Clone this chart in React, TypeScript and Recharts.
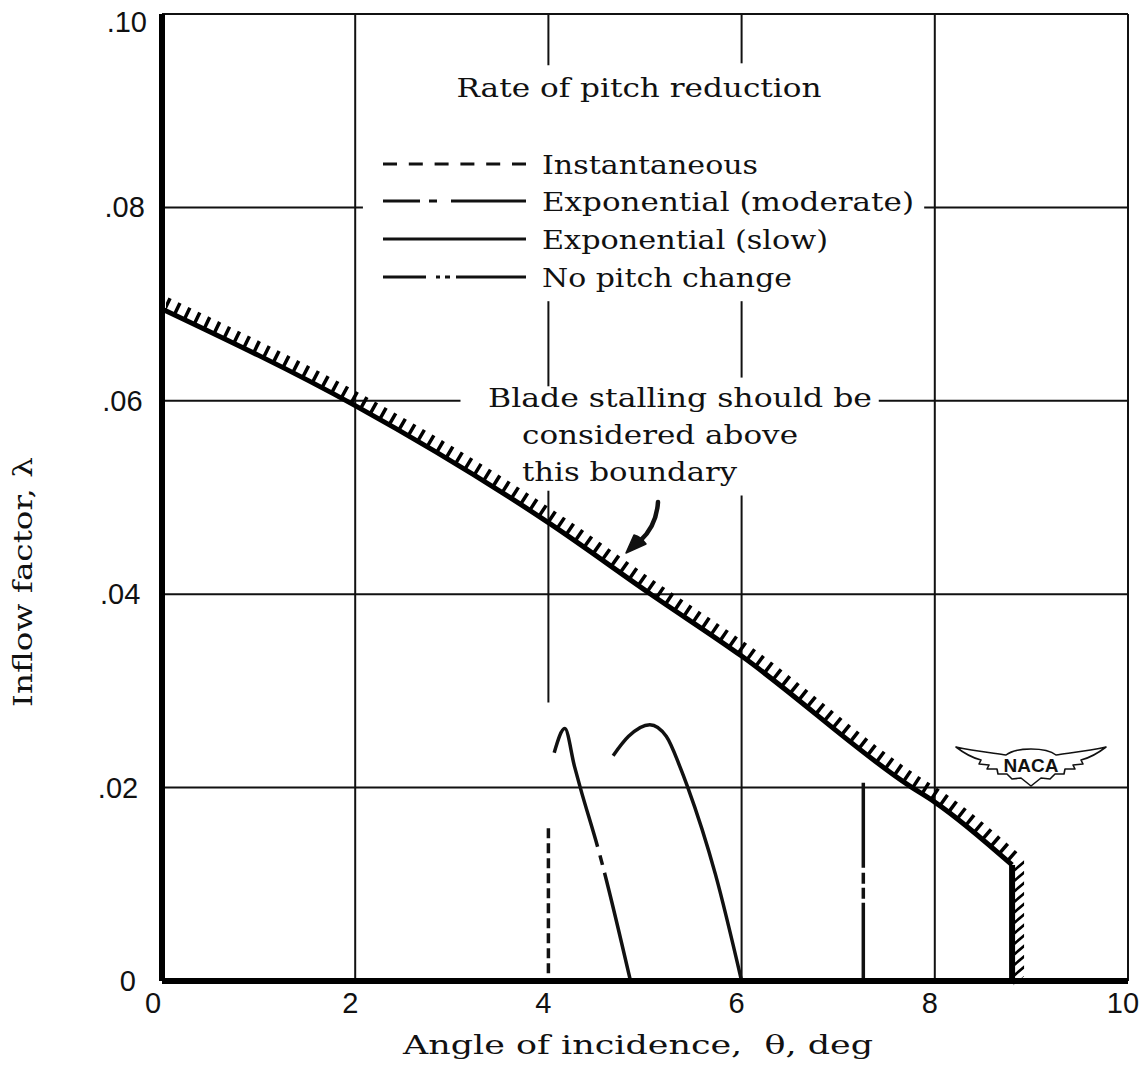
import React from 'react';
import { LineChart, Line, XAxis, YAxis, ReferenceLine, Customized } from 'recharts';

// ---------- data ----------
const xTicks = [0, 2, 4, 6, 8, 10];
const yTicks = [0, 0.02, 0.04, 0.06, 0.08, 0.1];

// stall boundary (hatched)
const boundarySlant = [
  { x: 0, y: 0.0695 },
  { x: 2, y: 0.0595 },
  { x: 4, y: 0.0474 },
  { x: 5.06, y: 0.04 },
  { x: 6, y: 0.0336 },
  { x: 7.75, y: 0.0201 },
  { x: 8, y: 0.0185 },
  { x: 8.8, y: 0.012 },
];
const boundaryVertical = [
  { x: 8.8, y: 0.012 },
  { x: 8.8, y: 0 },
];

const instantaneous = [
  { x: 4.0, y: 0.0158 },
  { x: 4.0, y: 0 },
];
const moderate = [
  { x: 4.06, y: 0.0236 },
  { x: 4.17, y: 0.0261 },
  { x: 4.27, y: 0.0222 },
  { x: 4.33, y: 0.02 },
  { x: 4.52, y: 0.0135 },
  { x: 4.85, y: 0 },
];
const slow = [
  { x: 4.67, y: 0.0233 },
  { x: 4.83, y: 0.0253 },
  { x: 5.05, y: 0.0265 },
  { x: 5.22, y: 0.0253 },
  { x: 5.36, y: 0.0222 },
  { x: 5.44, y: 0.0201 },
  { x: 5.73, y: 0.011 },
  { x: 6.0, y: 0 },
];
const noPitch = [
  { x: 7.26, y: 0.0205 },
  { x: 7.26, y: 0 },
];

// grid segments (interrupted by the lettering)
const vGridSegments = [
  { x: 2, from: 0, to: 0.1 },
  { x: 4, from: 0.0947, to: 0.1 },
  { x: 4, from: 0.0615, to: 0.0703 },
  { x: 4, from: 0.0288, to: 0.0507 },
  { x: 6, from: 0.0949, to: 0.1 },
  { x: 6, from: 0.0624, to: 0.0703 },
  { x: 6, from: 0, to: 0.0502 },
  { x: 8, from: 0, to: 0.1 },
  { x: 10, from: 0, to: 0.1 },
];
const hGridSegments = [
  { y: 0.02, from: 0, to: 10 },
  { y: 0.04, from: 0, to: 10 },
  { y: 0.06, from: 0, to: 3.09 },
  { y: 0.06, from: 7.42, to: 10 },
  { y: 0.08, from: 0, to: 2.08 },
  { y: 0.08, from: 7.89, to: 10 },
  { y: 0.1, from: 0, to: 10 },
];

const legendTitle = 'Rate of pitch reduction';
const legendLabels = ['Instantaneous', 'Exponential (moderate)', 'Exponential (slow)', 'No pitch change'];
const noteLines = ['Blade stalling should be', 'considered above', 'this boundary'];
const xTitle = 'Angle of incidence,  \u03b8, deg';
const yTitle = 'Inflow factor, \u03bb';

// ---------- styling ----------
const INK = '#111';
const SERIF = "'DejaVu Serif', serif";
const SANS = "'Liberation Sans', Arial, sans-serif";

const legendStyles = [
  { dash: '14 11.8', y: 164, len: 216 },
  { dash: '37 9 8 14 90', y: 201, len: 372 },
  { dash: undefined, y: 239, len: 286 },
  { dash: '43 10 4 5 5 6 90', y: 277, len: 250 },
];

const SerifText = ({ x, y, len, anchor = 'start', size = 26, rotate = false, children }: any) => (
  <text
    x={x}
    y={y}
    textLength={len}
    lengthAdjust="spacingAndGlyphs"
    textAnchor={anchor}
    fontFamily={SERIF}
    fontSize={size}
    fill={INK}
    style={{ whiteSpace: 'pre' }}
    transform={rotate ? `rotate(-90 ${x} ${y})` : undefined}
  >
    {children}
  </text>
);

const XTick = (props: any) => {
  const { x, y, payload } = props;
  const v = payload.value;
  const dx = v === 0 ? -9 : -5;
  return (
    <text x={x + dx} y={y + 32} textAnchor="middle" fontFamily={SANS} fontSize={29} fill={INK}>
      {String(v)}
    </text>
  );
};

const YTick = (props: any) => {
  const { x, y, payload } = props;
  const v = payload.value;
  const label = v === 0 ? '0' : '.' + String(Math.round(v * 100)).padStart(2, '0');
  const dy = v >= 0.099 ? 8 : 0;
  return (
    <text x={x - 26 + 110 * v} y={y + dy + 10} textAnchor="end" fontFamily={SANS} fontSize={29} fill={INK}>
      {label}
    </text>
  );
};

const Annotations = () => (
  <g>
    {/* legend block */}
    <SerifText x={639} y={97} len={365} anchor="middle">{legendTitle}</SerifText>
    {legendLabels.map((lab, i) => {
      const s = legendStyles[i];
      return (
        <g key={lab}>
          <line x1={383} x2={526} y1={s.y} y2={s.y} stroke={INK} strokeWidth={3} strokeDasharray={s.dash} />
          <SerifText x={542} y={s.y + 10} len={s.len}>{lab}</SerifText>
        </g>
      );
    })}
    {/* note */}
    <SerifText x={488} y={407} len={384}>{noteLines[0]}</SerifText>
    <SerifText x={522} y={444} len={276}>{noteLines[1]}</SerifText>
    <SerifText x={522} y={481} len={215}>{noteLines[2]}</SerifText>
    {/* arrow */}
    <path d="M658,502 C657,518 651,531 640,541" fill="none" stroke={INK} strokeWidth={4.5} strokeLinecap="round" />
    <path d="M626,553 L634,535 Q641,537 646,544 Z" fill={INK} stroke={INK} strokeWidth={1.5} strokeLinejoin="round" />
    {/* NACA emblem */}
    <g transform="translate(1031,766)">
      <path
        d="M-75,-19 C-58,-15 -38,-13 -25,-11 C-15,-19 15,-19 25,-11 C38,-13 58,-15 75,-19 C66,-12 58,-8 50,-6 L52,-2 L42,-1 L44,3 L34,3 L33,8 L24,8 L19,13 L10,12 L0,20 L-10,12 L-19,13 L-24,8 L-33,8 L-34,3 L-44,3 L-42,-1 L-52,-2 L-50,-6 C-58,-8 -66,-12 -75,-19 Z"
        fill="#fff"
        stroke={INK}
        strokeWidth={1.6}
        strokeLinejoin="round"
      />
      <text x={0} y={6} textAnchor="middle" fontFamily={SANS} fontWeight="bold" fontSize={19} fill={INK}>
        NACA
      </text>
    </g>
    {/* axis titles */}
    <SerifText x={638} y={1054} len={470} anchor="middle">{xTitle}</SerifText>
    <SerifText x={32} y={582} len={250} anchor="middle" rotate>{yTitle}</SerifText>
  </g>
);

export default function App() {
  return (
    <div style={{ width: 1143, height: 1076, background: '#fff' }}>
      <style>{`
        body { margin: 0; overflow: hidden; background: #fff; }
        .hatch-slant { transform: translate(3.9px, -6px); }
        .hatch-vert { transform-box: fill-box; transform-origin: center; transform: translate(6.5px, 0px) skewY(-40deg); }
      `}</style>
      <LineChart width={1143} height={1076} margin={{ top: 14, right: 15, bottom: 55, left: 82 }}>
        <XAxis
          type="number"
          dataKey="x"
          domain={[0, 10]}
          ticks={xTicks}
          interval={0}
          height={40}
          tickLine={false}
          tickSize={0}
          tickMargin={0}
          axisLine={{ stroke: '#000', strokeWidth: 6 }}
          tick={<XTick />}
          allowDataOverflow
        />
        <YAxis
          type="number"
          dataKey="y"
          domain={[0, 0.1]}
          ticks={yTicks}
          interval={0}
          width={80}
          tickLine={false}
          tickSize={0}
          tickMargin={0}
          axisLine={{ stroke: '#000', strokeWidth: 6 }}
          tick={<YTick />}
          allowDataOverflow
        />
        {vGridSegments.map((s, i) => (
          <ReferenceLine
            key={'v' + i}
            segment={[{ x: s.x, y: s.from }, { x: s.x, y: s.to }]}
            stroke={INK}
            strokeWidth={2}
            ifOverflow="visible"
          />
        ))}
        {hGridSegments.map((s, i) => (
          <ReferenceLine
            key={'h' + i}
            segment={[{ x: s.from, y: s.y }, { x: s.to, y: s.y }]}
            stroke={INK}
            strokeWidth={2}
            ifOverflow="visible"
          />
        ))}

        {/* stall boundary with hatching */}
        <Line data={boundarySlant} dataKey="y" type="monotone" stroke="#000" strokeWidth={12} strokeDasharray="3.5 7.5" strokeLinecap="butt" className="hatch-slant" dot={false} activeDot={false} isAnimationActive={false} />
        <Line data={boundaryVertical} dataKey="y" type="linear" stroke="#000" strokeWidth={11} strokeDasharray="3.5 7" strokeLinecap="butt" className="hatch-vert" dot={false} activeDot={false} isAnimationActive={false} />
        <Line data={boundarySlant} dataKey="y" type="monotone" stroke="#000" strokeWidth={5} dot={false} activeDot={false} isAnimationActive={false} />
        <Line data={boundaryVertical} dataKey="y" type="linear" stroke="#000" strokeWidth={6} dot={false} activeDot={false} isAnimationActive={false} />

        {/* pitch reduction cases */}
        <Line data={instantaneous} name="Instantaneous" dataKey="y" type="linear" stroke={INK} strokeWidth={3.5} strokeDasharray="10 5" dot={false} activeDot={false} isAnimationActive={false} />
        <Line data={moderate} name="Exponential (moderate)" dataKey="y" type="monotone" stroke={INK} strokeWidth={3.5} strokeDasharray="150 9 10 8 600" dot={false} activeDot={false} isAnimationActive={false} />
        <Line data={slow} name="Exponential (slow)" dataKey="y" type="monotone" stroke={INK} strokeWidth={3.5} dot={false} activeDot={false} isAnimationActive={false} />
        <Line data={noPitch} name="No pitch change" dataKey="y" type="linear" stroke={INK} strokeWidth={3.5} strokeDasharray="85 5 11 4 11 4 300" dot={false} activeDot={false} isAnimationActive={false} />

        <Customized component={Annotations} />
      </LineChart>
    </div>
  );
}
